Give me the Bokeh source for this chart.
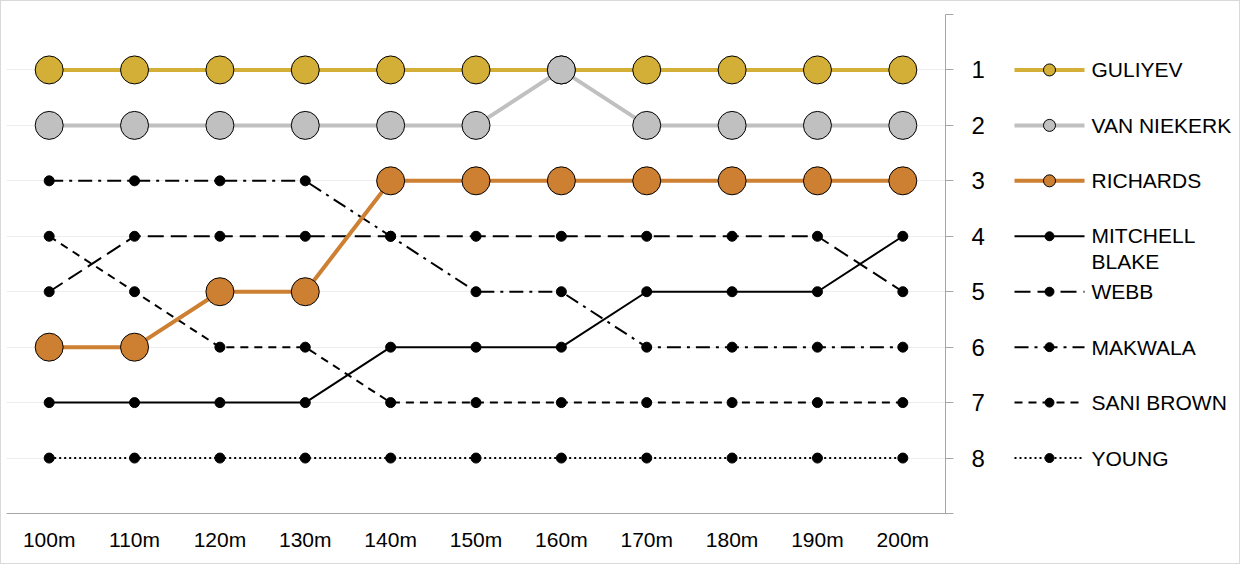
from bokeh.plotting import figure
from bokeh.models import Range1d, FixedTicker, ColumnDataSource
from bokeh.layouts import row
from bokeh.embed import file_html
from bokeh.resources import INLINE
from bokeh.core.properties import value

# ---------------- data ----------------
splits = ["100m", "110m", "120m", "130m", "140m", "150m",
          "160m", "170m", "180m", "190m", "200m"]
rank_ticks = [0, 1, 2, 3, 4, 5, 6, 7, 8, 9]

athletes = ["GULIYEV", "VAN NIEKERK", "RICHARDS", "MITCHELL\nBLAKE",
            "WEBB", "MAKWALA", "SANI BROWN", "YOUNG"]

guliyev        = [1, 1, 1, 1, 1, 1, 1, 1, 1, 1, 1]
van_niekerk    = [2, 2, 2, 2, 2, 2, 1, 2, 2, 2, 2]
richards       = [6, 6, 5, 5, 3, 3, 3, 3, 3, 3, 3]
mitchell_blake = [7, 7, 7, 7, 6, 6, 6, 5, 5, 5, 4]
webb           = [5, 4, 4, 4, 4, 4, 4, 4, 4, 4, 5]
makwala        = [3, 3, 3, 3, 4, 5, 5, 6, 6, 6, 6]
sani_brown     = [4, 5, 6, 6, 7, 7, 7, 7, 7, 7, 7]
young          = [8, 8, 8, 8, 8, 8, 8, 8, 8, 8, 8]

series = [guliyev, van_niekerk, richards, mitchell_blake,
          webb, makwala, sani_brown, young]

# ---------------- styles ----------------
FONT = "Liberation Sans"
GOLD, SILVER, BRONZE = "#D4AF37", "#C0C0C0", "#CD7F32"
line_colors = [GOLD, SILVER, BRONZE, "black", "black", "black", "black", "black"]
line_widths = [4, 4, 4, 2, 2, 2, 2, 2]
line_dashes = ["solid", "solid", "solid", "solid", "16 7", "14 6 3 6", "8 6", "2 3"]
medal = [True, True, True, False, False, False, False, False]

H = 562
TOP, BOTTOM = 13, 50

# ---------------- main chart ----------------
p = figure(x_range=splits, y_range=Range1d(9, 0), width=1001, height=H,
           output_backend="svg", toolbar_location=None,
           y_axis_location="right",
           min_border_left=5, min_border_right=57,
           min_border_top=TOP, min_border_bottom=BOTTOM)
p.outline_line_color = None
p.background_fill_color = "white"
p.border_fill_color = "white"

p.xgrid.visible = False
p.ygrid.ticker = FixedTicker(ticks=rank_ticks)
p.ygrid.grid_line_color = "#ededed"
p.ygrid.grid_line_width = 1

p.xaxis.axis_line_color = "#a6a6a6"
p.xaxis.major_tick_line_color = None
p.xaxis.minor_tick_line_color = None
p.xaxis.major_tick_out = 0
p.xaxis.major_tick_in = 0
p.xaxis.major_label_standoff = 14
p.xaxis.major_label_text_font = FONT
p.xaxis.major_label_text_font_size = "21px"
p.xaxis.major_label_text_color = "black"

p.yaxis.ticker = FixedTicker(ticks=rank_ticks)
p.yaxis.major_label_overrides = {0: "", 9: ""}
p.yaxis.axis_line_color = "#a6a6a6"
p.yaxis.major_tick_line_color = "#a6a6a6"
p.yaxis.minor_tick_line_color = None
p.yaxis.major_tick_out = 8
p.yaxis.major_tick_in = 0
p.yaxis.major_label_standoff = 18
p.yaxis.major_label_text_font = FONT
p.yaxis.major_label_text_font_size = "24px"
p.yaxis.major_label_text_color = "black"
p.yaxis.major_label_text_align = "left"

# lines first (black ones at the bottom, medal lines on top)
order_lines = [7, 6, 5, 4, 3, 2, 1, 0]
for i in order_lines:
    p.line(x=splits, y=series[i], line_color=line_colors[i],
           line_width=line_widths[i], line_dash=line_dashes[i])

# markers (gold first so silver covers it where they meet)
for i in order_lines[:5]:
    p.scatter(x=splits, y=series[i], size=10, marker="circle",
              fill_color="black", line_color="black")
for i in [2, 0, 1]:
    p.scatter(x=splits, y=series[i], size=28, marker="circle",
              fill_color=line_colors[i], line_color="black", line_width=1)

# ---------------- legend panel ----------------
LW = 237
leg = figure(x_range=Range1d(0, LW), y_range=p.y_range, width=LW, height=H,
             output_backend="svg", toolbar_location=None,
             x_axis_location=None, y_axis_location=None,
             min_border_left=0, min_border_right=0,
             min_border_top=TOP, min_border_bottom=BOTTOM)
leg.outline_line_color = None
leg.xgrid.visible = False
leg.ygrid.visible = False

KEY_X0, KEY_X1, TEXT_X = 12, 82, 89
KEY_MID = (KEY_X0 + KEY_X1) / 2
LINE_PX = 24

for i, name in enumerate(athletes):
    yk = i + 1
    leg.line(x=[KEY_X0, KEY_X1], y=[yk, yk], line_color=line_colors[i],
             line_width=line_widths[i], line_dash=line_dashes[i])
    if medal[i]:
        leg.scatter(x=[KEY_MID], y=[yk], size=12, marker="circle",
                    fill_color=line_colors[i], line_color="black", line_width=1)
    else:
        leg.scatter(x=[KEY_MID], y=[yk], size=9, marker="circle",
                    fill_color="black", line_color="black")

txt = ColumnDataSource(dict(
    x=[TEXT_X] * len(athletes),
    y=[i + 1 for i in range(len(athletes))],
    text=athletes,
    yoff=[(n.count("\n")) * LINE_PX / 2 for n in athletes],
))
leg.text(x="x", y="y", text="text", y_offset="yoff", source=txt,
         text_font=value(FONT), text_font_size="21px", text_color="black",
         text_baseline="middle", text_align="left", text_line_height=1.15)

layout = row(p, leg, styles={"border": "1px solid #d9d9d9"})

open("out.html", "w").write(file_html(layout, INLINE))
